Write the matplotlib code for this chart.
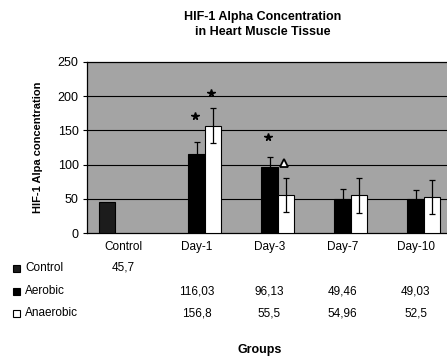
import numpy as np
import matplotlib
matplotlib.use('Agg')
import matplotlib.pyplot as plt
from matplotlib.patches import Rectangle
import matplotlib.transforms as mtransforms

plt.rcParams['font.family'] = ['Liberation Sans', 'DejaVu Sans']

# data
groups = ['Control', 'Day-1', 'Day-3', 'Day-7', 'Day-10']
series_names = ['Control', 'Aerobic', 'Anaerobic']
control_vals = [45.7, None, None, None, None]
aerobic_vals = [None, 116.03, 96.13, 49.46, 49.03]
anaerobic_vals = [None, 156.8, 55.5, 54.96, 52.5]
aerobic_err = [None, 17, 15.5, 14.5, 14]
anaerobic_err = [None, 25.5, 25, 25, 25]

# significance marks: (group index, series index, y value, symbol)
marks = [(1, 1, 171, '*'), (1, 2, 204, '*'), (2, 1, 140, '*'), (2, 2, 102, '^')]

W, H = 447, 356
fig = plt.figure(figsize=(W / 100, H / 100), dpi=100)
ax = fig.add_axes([87 / W, 123 / H, 365 / W, 171 / H])
ax.set_facecolor('#a4a4a4')

x = np.arange(len(groups))
bw = 0.22
offsets = [-bw, 0, bw]
faces = ['#1c1c1c', 'black', 'white']
all_vals = [control_vals, aerobic_vals, anaerobic_vals]
all_err = [None, aerobic_err, anaerobic_err]

for si, vals in enumerate(all_vals):
    idx = [i for i, v in enumerate(vals) if v is not None]
    xs = x[idx] + offsets[si]
    ys = [vals[i] for i in idx]
    ax.bar(xs, ys, bw, color=faces[si], edgecolor='black', linewidth=0.8, zorder=3)
    if all_err[si] is not None:
        es = [all_err[si][i] for i in idx]
        ax.errorbar(xs, ys, yerr=es, fmt='none', ecolor='black', elinewidth=0.9,
                    capsize=2.5, capthick=0.9, zorder=4)

for gi, si, yv, sym in marks:
    xm = x[gi] + offsets[si]
    if sym == '*':
        ax.plot(xm - 0.02, yv, marker='*', color='black', ms=5.5, zorder=5)
    else:
        ax.plot(xm - 0.02, yv, marker='^', mfc='white', mec='black', mew=1.3, ms=6, zorder=5)

ax.set_xlim(-0.5, len(groups) - 0.5)
ax.set_ylim(0, 250)
ax.set_yticks(np.arange(0, 251, 50))
ax.set_xticks(x)
ax.set_xticklabels(groups)
ax.tick_params(axis='x', length=0, pad=6, labelsize=8.5)
ax.tick_params(axis='y', length=3, width=0.8, pad=3, labelsize=9)
for yv in range(50, 250, 50):
    ax.axhline(yv, color='black', lw=0.8, zorder=1)
for s in ax.spines.values():
    s.set_linewidth(0.9)
ax.spines['right'].set_visible(False)

ax.set_ylabel('HIF-1 Alpa concentration', fontsize=8, fontweight='bold')
ax.yaxis.set_label_coords(-0.12, 0.5)

fig.text(263 / W, 1 - 24.5 / H, 'HIF-1 Alpha Concentration\nin Heart Muscle Tissue',
         ha='center', va='center', fontsize=9, fontweight='bold', linespacing=1.25)

# data table under the axis
row_y = [1 - 268 / H, 1 - 291 / H, 1 - 313 / H]
tr = mtransforms.blended_transform_factory(ax.transData, fig.transFigure)
for si, vals in enumerate(all_vals):
    fig.add_artist(Rectangle((13 / W, row_y[si] - 3.5 / H), 7 / W, 7 / H,
                             transform=fig.transFigure, facecolor=faces[si],
                             edgecolor='black', linewidth=0.8))
    fig.text(25 / W, row_y[si], series_names[si], fontsize=8.5, va='center', ha='left')
    for gi, v in enumerate(vals):
        if v is not None:
            ax.text(x[gi], row_y[si], str(v).replace('.', ','), transform=tr,
                    fontsize=8.5, ha='center', va='center', clip_on=False)

fig.text(260 / W, 1 - 350 / H, 'Groups', fontsize=9, fontweight='bold',
         ha='center', va='center')

fig.savefig('out.png', dpi=100)
